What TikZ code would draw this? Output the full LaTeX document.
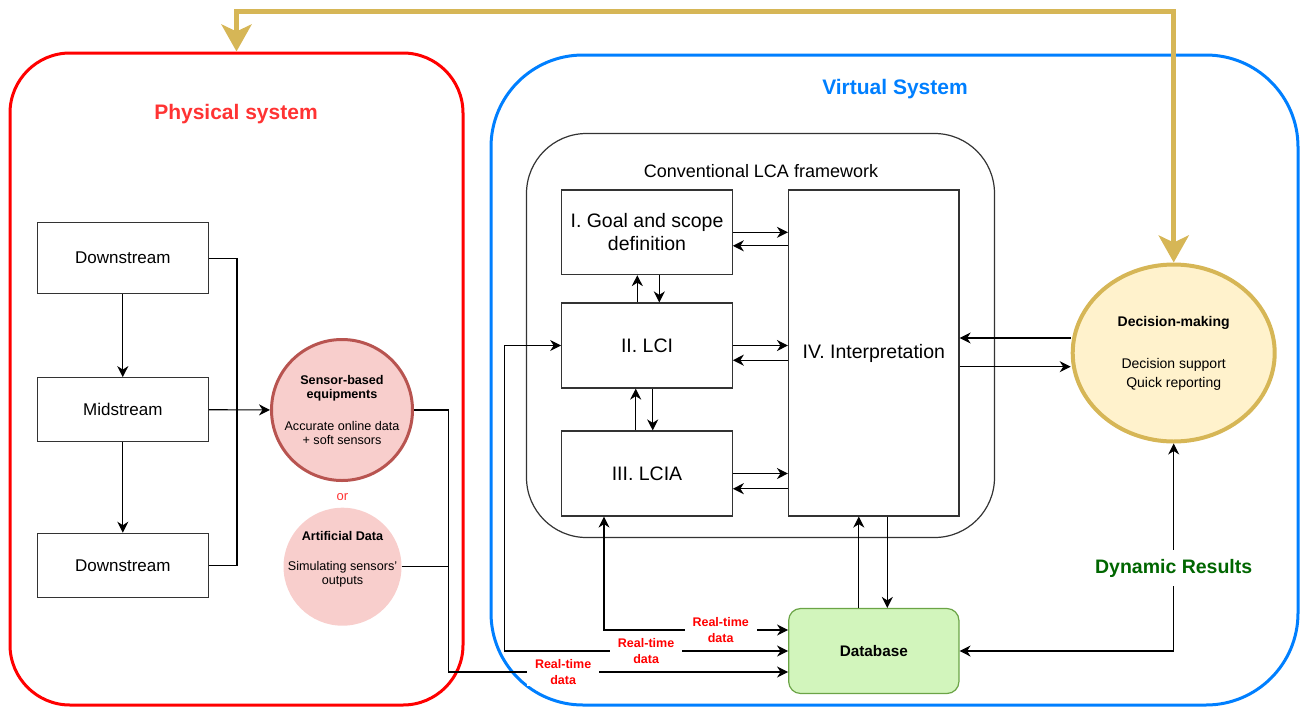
\documentclass[tikz,border=0pt]{standalone}
\usepackage{fontspec}
\setmainfont{Liberation Sans}
\usetikzlibrary{arrows.meta,shapes.geometric,calc}

\definecolor{physred}{HTML}{FF0000}
\definecolor{titlered}{HTML}{FF3333}
\definecolor{virtblue}{HTML}{007FFF}
\definecolor{decgold}{HTML}{D6B656}
\definecolor{decfill}{HTML}{FFF2CC}
\definecolor{sensfill}{HTML}{F8CECC}
\definecolor{sensline}{HTML}{B85450}
\definecolor{dbfill}{HTML}{D2F5BC}
\definecolor{dbline}{HTML}{6BA446}
\definecolor{dyngreen}{HTML}{006600}

\begin{document}
\begin{tikzpicture}[x=1pt,y=-1pt,
    every node/.style={inner sep=0pt,align=center},
    box/.style={draw=black!80,line width=1.2pt,minimum width=170.5pt,font=\fontsize{19.5}{23.4}\selectfont},
    sbox/.style={draw=black!80,line width=1.2pt,minimum width=171pt,font=\fontsize{17}{20}\selectfont},
    arr/.style={line width=1.2pt,-{Stealth[length=11pt,width=11pt,inset=3.5pt]}},
    arrs/.style={line width=1.2pt,{Stealth[length=11pt,width=11pt,inset=3.5pt]}-{Stealth[length=11pt,width=11pt,inset=3.5pt]}},
    rtdata/.style={fill=white,text=physred,inner xsep=8pt,inner ysep=1pt,font=\bfseries\fontsize{12.5}{16}\selectfont}]
    \useasboundingbox (0,0) rectangle (1303,707);

    % the two systems
    \node[draw=physred,line width=3pt,rounded corners=60pt,minimum width=453pt,minimum height=652pt] (phys) at (236.5,379) {};
    \node[draw=virtblue,line width=3pt,rounded corners=92pt,minimum width=807pt,minimum height=650pt] (virt) at (894.5,380) {};
    \node[text=titlered,font=\bfseries\fontsize{21}{25}\selectfont] (physttl) at (236,114) {Physical system};
    \node[text=virtblue,font=\bfseries\fontsize{21}{25}\selectfont] (virtttl) at (895,89) {Virtual System};

    % physical side
    \node[sbox,minimum height=71pt] (ds1) at (122.8,258.2) {Downstream};
    \node[sbox,minimum height=64pt] (mid) at (122.8,409.7) {Midstream};
    \node[sbox,minimum height=64.4pt] (ds2) at (122.8,565.5) {Downstream};
    \node[circle,draw=sensline,fill=sensfill,line width=3pt,minimum size=141pt,font=\fontsize{12.6}{14.5}\selectfont] (sens) at (342,410)
        {\textbf{Sensor-based}\\\textbf{equipments}\\[17pt]Accurate online data\\+ soft sensors};
    \node[text=titlered,font=\fontsize{13}{15}\selectfont] (or) at (342.5,497) {or};
    \node[circle,fill=sensfill,minimum size=118pt,
        label={[align=center,yshift=7.4pt,font=\fontsize{12.6}{14.5}\selectfont]center:{\textbf{Artificial Data}\\[15pt]Simulating sensors'\\outputs}}] (art) at (342.5,566.7) {};
    \coordinate (bus) at (448.3,410);

    % LCA framework
    \node[draw=black!80,line width=1.2pt,rounded corners=60pt,minimum width=468pt,minimum height=404pt] (lca) at (760.5,335.5) {};
    \node[font=\fontsize{18}{21}\selectfont] (lcattl) at (761,171) {Conventional LCA framework};
    \node[box,minimum height=84.5pt] (goal) at (647,232.3) {I. Goal and scope\\definition};
    \node[box,minimum height=85pt] (lci) at (647,345.5) {II. LCI};
    \node[box,minimum height=85pt] (lcia) at (647,473.5) {III. LCIA};
    \node[box,minimum height=326pt] (interp) at (873.8,353) {IV. Interpretation};
    \node[draw=dbline,fill=dbfill,line width=1.2pt,rounded corners=12pt,minimum width=170.3pt,minimum height=85pt,font=\bfseries\fontsize{15.3}{18}\selectfont] (db) at (873.8,651) {Database};
    \node[ellipse,draw=decgold,fill=decfill,line width=4pt,minimum width=202pt,minimum height=177pt,font=\fontsize{14}{19}\selectfont] (dec) at (1173.7,353)
        {\textbf{Decision-making}\\[23pt]Decision support\\Quick reporting};

    % feedback loop
    \draw[decgold,line width=5pt,{Stealth[length=27pt,width=30pt,inset=7pt]}-{Stealth[length=27pt,width=30pt,inset=7pt]}]
        (phys.north) -- ++(0,-40) -| (dec.north);

    % physical flows
    \draw[arr] (ds1) -- (mid);
    \draw[arr] (mid) -- (ds2);
    \draw[line width=1.2pt] (ds1.east) -- ++(28,0) coordinate (b1) -- (b1 |- mid.east);
    \draw[line width=1.2pt] (ds2.east) -- ++(28,0) coordinate (b2) -- (b2 |- mid.east);
    \draw[arr] (mid) -- (sens);
    \draw[line width=1.2pt] (art.east) -- (art.east -| bus);
    \draw[arr] (sens.east) -- (bus) |- node[rtdata,pos=0.669] {Real-time\\data} ($(db.west)+(0,21)$);

    % real-time data into the framework
    \draw[arrs] (lci.west) -- ++(-57,0) |- node[rtdata,pos=0.75] {Real-time\\data} (db.west);
    \draw[arrs] ($(lcia.south)+(-43,0)$) |- node[rtdata,pos=0.817] {Real-time\\data} ($(db.west)+(0,-21)$);

    % framework links
    \draw[arr] (goal.east) -- (goal.east -| interp.west);
    \draw[arr] ($(goal.east -| interp.west)+(0,13.5)$) -- ($(goal.east)+(0,13.5)$);
    \draw[arr] (lci.east) -- (lci.east -| interp.west);
    \draw[arr] ($(lci.east -| interp.west)+(0,14.7)$) -- ($(lci.east)+(0,14.7)$);
    \draw[arr] (lcia.east) -- (lcia.east -| interp.west);
    \draw[arr] ($(lcia.east -| interp.west)+(0,15.2)$) -- ($(lcia.east)+(0,15.2)$);
    \draw[arr] ($(lci.north)+(-9.7,0)$) -- ($(goal.south)+(-9.7,0)$);
    \draw[arr] ($(goal.south)+(12.3,0)$) -- ($(lci.north)+(12.3,0)$);
    \draw[arr] ($(lcia.north)+(-11.3,0)$) -- ($(lci.south)+(-11.3,0)$);
    \draw[arr] ($(lci.south)+(5.7,0)$) -- ($(lcia.north)+(5.7,0)$);
    \draw[arr] ($(db.north)+(-15,0)$) -- ($(interp.south)+(-15,0)$);
    \draw[arr] ($(interp.south)+(13.5,0)$) -- ($(db.north)+(13.5,0)$);

    % decision making
    \draw[arr] ($(dec.west)+(0,-15)$) -- ($(dec.west -| interp.east)+(0,-15)$);
    \draw[arr] ($(interp.east)+(0,13.7)$) -- ($(interp.east -| dec.west)+(0,13.7)$);
    \draw[arrs] (dec.south) |- node[pos=0.3,fill=white,text=dyngreen,inner xsep=3pt,inner ysep=9pt,font=\bfseries\fontsize{19.5}{23}\selectfont] {Dynamic Results} (db.east);
\end{tikzpicture}
\end{document}
